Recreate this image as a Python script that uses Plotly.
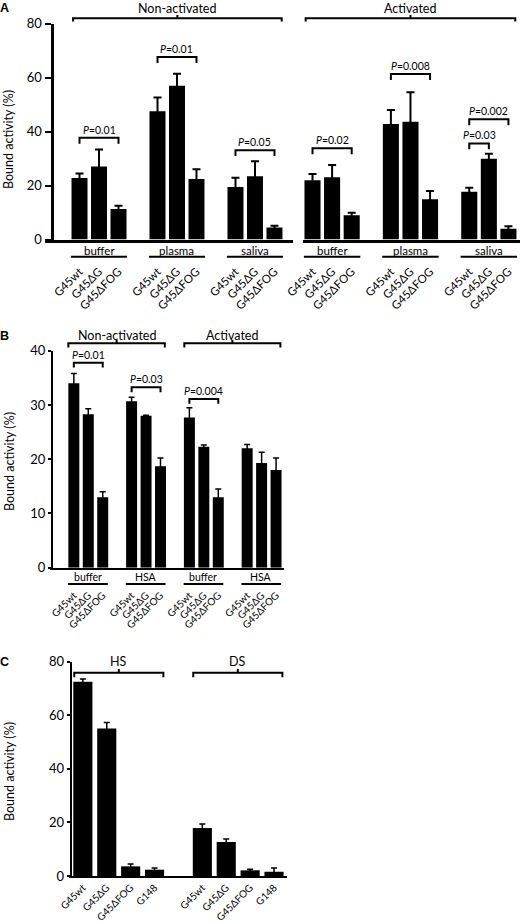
import plotly.graph_objects as go

FONT = "Lato"
W, H = 520, 922


def px_x(p):
    return p / W


def px_y(p):
    return 1 - p / H


# ---------------- data ----------------
# Panel A
A_conditions = ["buffer", "plasma", "saliva"]
A_variants = ["G45wt", "G45ΔG", "G45ΔFOG"]
A_nonact_mean = [22.8, 27.0, 11.3, 47.5, 56.9, 22.4, 19.4, 23.4, 4.4]
A_nonact_err = [1.6, 6.3, 1.2, 5.1, 4.5, 3.6, 3.5, 5.6, 0.7]
A_act_mean = [21.9, 23.1, 9.0, 42.8, 43.6, 14.9, 17.7, 29.9, 4.0]
A_act_err = [2.4, 4.5, 0.9, 5.2, 10.9, 3.1, 1.5, 1.9, 0.9]
A_group_titles = ["Non-activated", "Activated"]
# P-value comparisons: (first bar index, last bar index, bracket height, label)
A_nonact_pvals = [(0, 2, 37.7, "0.01"), (3, 5, 67.6, "0.01"), (6, 8, 33.1, "0.05")]
A_act_pvals = [(0, 2, 33.8, "0.02"), (3, 5, 61.3, "0.008"),
               (6, 8, 44.5, "0.002"), (6, 7, 35.6, "0.03")]

# Panel B
B_conditions = ["buffer", "HSA", "buffer", "HSA"]
B_variants = ["G45wt", "G45ΔG", "G45ΔFOG"]
B_mean = [34.0, 28.3, 13.0, 30.7, 28.0, 18.7, 27.7, 22.3, 13.0, 22.0, 19.3, 18.0]
B_err = [1.8, 1.0, 1.0, 0.7, 0.1, 1.5, 1.8, 0.3, 1.5, 0.7, 2.0, 2.2]
B_group_titles = ["Non-activated", "Activated"]
B_pvals = [(0, 2, 37.8, "0.01"), (3, 5, 33.25, "0.03"), (6, 8, 31.1, "0.004")]

# Panel C
C_variants = ["G45wt", "G45ΔG", "G45ΔFOG", "G148"]
C_HS_mean = [72.5, 55.1, 3.6, 2.35]
C_HS_err = [1.0, 2.2, 0.9, 0.65]
C_DS_mean = [17.9, 12.7, 2.1, 1.6]
C_DS_err = [1.5, 1.1, 0.4, 1.4]
C_group_titles = ["HS", "DS"]

# ---------------- positions (slots) ----------------
A_slots = [4 * g + b for g in range(3) for b in range(3)]
B_slots = [4 * g + b for g in range(4) for b in range(3)]
C_HS_slots = [0, 1, 2, 3]
C_DS_slots = [5, 6, 7, 8]

fig = go.Figure()


def err(arr, th=2, w=4):
    return dict(type="data", array=arr, color="black", thickness=th, width=w)


fig.add_trace(go.Bar(x=A_slots, y=A_nonact_mean, error_y=err(A_nonact_err),
                     marker=dict(color="black", line=dict(width=0)), width=0.82,
                     xaxis="x", yaxis="y"))
fig.add_trace(go.Bar(x=A_slots, y=A_act_mean, error_y=err(A_act_err),
                     marker=dict(color="black", line=dict(width=0)), width=0.82,
                     xaxis="x2", yaxis="y"))
fig.add_trace(go.Bar(x=B_slots, y=B_mean, error_y=err(B_err, 1.5, 3),
                     marker=dict(color="black", line=dict(width=0)), width=0.76,
                     xaxis="x3", yaxis="y2"))
fig.add_trace(go.Bar(x=C_HS_slots, y=C_HS_mean, error_y=err(C_HS_err, 1.5, 3),
                     marker=dict(color="black", line=dict(width=0)), width=0.8,
                     xaxis="x4", yaxis="y3"))
fig.add_trace(go.Bar(x=C_DS_slots, y=C_DS_mean, error_y=err(C_DS_err, 1.5, 3),
                     marker=dict(color="black", line=dict(width=0)), width=0.8,
                     xaxis="x4", yaxis="y3"))

shapes = []
annotations = []


def pbracket(xref, yref, x0, x1, y, leg, label, fs=10.5):
    shapes.append(dict(type="path", xref=xref, yref=yref,
                       path=f"M {x0},{y - leg} L {x0},{y} L {x1},{y} L {x1},{y - leg}",
                       line=dict(color="black", width=2)))
    annotations.append(dict(xref=xref, yref=yref, x=(x0 + x1) / 2, y=y,
                            yanchor="bottom", xanchor="center", showarrow=False,
                            text="<i>P</i>=" + label,
                            font=dict(family=FONT, size=fs, color="black"), yshift=0))


def group_bracket(xref, x0, x1, y_line, y_leg, y_tick, text, y_text, fs=12.5):
    xc = (x0 + x1) / 2
    shapes.append(dict(type="path", xref=xref, yref="paper",
                       path=(f"M {x0},{px_y(y_leg)} L {x0},{px_y(y_line)} L {x1},{px_y(y_line)} "
                             f"L {x1},{px_y(y_leg)} M {xc},{px_y(y_line)} L {xc},{px_y(y_tick)}"),
                       line=dict(color="black", width=2)))
    annotations.append(dict(xref=xref, yref="paper", x=xc, y=px_y(y_text),
                            yanchor="middle", xanchor="center", showarrow=False, text=text,
                            font=dict(family=FONT, size=fs, color="black")))


def cat_label(xref, g_start, g_end, text, y_text, y_line, fs=11.5):
    annotations.append(dict(xref=xref, yref="paper", x=(g_start + g_end) / 2, y=px_y(y_text),
                            yanchor="middle", xanchor="center", showarrow=False, text=text,
                            font=dict(family=FONT, size=fs, color="black")))
    shapes.append(dict(type="line", xref=xref, yref="paper", x0=g_start, x1=g_end,
                       y0=px_y(y_line), y1=px_y(y_line), line=dict(color="black", width=2)))


# Panel A annotations
for (i0, i1, y, lab) in A_nonact_pvals:
    pbracket("x", "y", A_slots[i0], A_slots[i1], y, 2.2, lab)
for (i0, i1, y, lab) in A_act_pvals:
    pbracket("x2", "y", A_slots[i0], A_slots[i1], y, 2.2, lab)
group_bracket("x", -0.33, 10.37, 18.3, 21.5, 15, A_group_titles[0], 8.3)
group_bracket("x2", -0.35, 10.35, 18.3, 21.5, 15, A_group_titles[1], 8.3)
for g, c in enumerate(A_conditions):
    cat_label("x", 4 * g - 0.44, 4 * g + 2.44, c, 250.5, 256.7)
    cat_label("x2", 4 * g - 0.44, 4 * g + 2.44, c, 250.5, 256.7)

# Panel B annotations
for (i0, i1, y, lab) in B_pvals:
    pbracket("x3", "y2", B_slots[i0], B_slots[i1], y, 0.9, lab)
group_bracket("x3", -0.38, 6.3, 343.3, 347.5, 340, B_group_titles[0], 335.7)
group_bracket("x3", 7.65, 14.3, 343.3, 347.5, 340, B_group_titles[1], 335.7)
for g, c in enumerate(B_conditions):
    cat_label("x3", 4 * g - 0.4, 4 * g + 2.35, c, 576.7, 584, fs=10.5)

# Panel C annotations
group_bracket("x4", -0.36, 3.37, 672.7, 677.3, 669, C_group_titles[0], 661.7)
group_bracket("x4", 4.62, 8.35, 672.7, 677.3, 669, C_group_titles[1], 661.7)

# Panel letters and y titles
for letter, ypx in [("A", 8), ("B", 336), ("C", 662)]:
    annotations.append(dict(xref="paper", yref="paper", x=px_x(4.5), y=px_y(ypx),
                            xanchor="center", yanchor="middle", showarrow=False,
                            text=f"<b>{letter}</b>",
                            font=dict(family="Liberation Sans", size=12.5, color="black")))
for ypx in [140, 462, 772]:
    annotations.append(dict(xref="paper", yref="paper", x=px_x(9), y=px_y(ypx),
                            xanchor="center", yanchor="middle", showarrow=False,
                            textangle=-90, text="Bound activity (%)",
                            font=dict(family=FONT, size=12.5, color="black")))

xcommon = dict(showgrid=False, zeroline=False, showline=True, linecolor="black",
               ticks="", tickangle=-45, automargin=False)
ycommon = dict(showgrid=False, zeroline=False, showline=True, linecolor="black",
               ticks="outside", tickcolor="black", anchor="free", automargin=False)

fig.update_layout(
    template="none",
    width=W, height=H, margin=dict(l=0, r=0, t=0, b=0, pad=0), autosize=False,
    paper_bgcolor="white", plot_bgcolor="white", showlegend=False,
    barmode="overlay",
    font=dict(family=FONT, color="black"),
    xaxis=dict(**xcommon, domain=[px_x(45), px_x(293)], range=[-1.77, 10.95], anchor="y",
               linewidth=3, tickvals=A_slots, ticktext=A_variants * 3,
               tickfont=dict(family=FONT, size=11.5), ticklabelstandoff=18),
    xaxis2=dict(**xcommon, domain=[px_x(303), 1.0], range=[-0.485, 10.59], anchor="y",
                linewidth=3, tickvals=A_slots, ticktext=A_variants * 3,
                tickfont=dict(family=FONT, size=11.5), ticklabelstandoff=18),
    yaxis=dict(**ycommon, domain=[px_y(239.5), px_y(23.5)], range=[0, 80],
               position=px_x(51.5), linewidth=3, ticklen=6, tickwidth=2,
               tickvals=[0, 20, 40, 60, 80], tickfont=dict(family=FONT, size=13)),
    xaxis3=dict(**xcommon, domain=[px_x(50), px_x(284)], range=[-1.65, 14.55], anchor="y2",
                linewidth=2, tickvals=B_slots, ticktext=B_variants * 4,
                tickfont=dict(family=FONT, size=10), ticklabelstandoff=16),
    yaxis2=dict(**ycommon, domain=[px_y(567.7), px_y(350.7)], range=[0, 40],
                position=px_x(52), linewidth=2, ticklen=3, tickwidth=1.5,
                tickvals=[0, 10, 20, 30, 40], tickfont=dict(family=FONT, size=13)),
    xaxis4=dict(**xcommon, domain=[px_x(69), px_x(286.7)], range=[-0.58, 8.53], anchor="y3",
                linewidth=2, tickvals=C_HS_slots + C_DS_slots, ticktext=C_variants * 2,
                tickfont=dict(family=FONT, size=10), ticklabelstandoff=0),
    yaxis3=dict(**ycommon, domain=[px_y(876), px_y(661.7)], range=[0, 80],
                position=px_x(70.7), linewidth=2, ticklen=3, tickwidth=1.5,
                tickvals=[0, 20, 40, 60, 80], tickfont=dict(family=FONT, size=13)),
    shapes=shapes,
    annotations=annotations,
)

fig.write_html("out.html", config={"displayModeBar": False},
               post_script="document.body.style.margin='0';document.body.style.overflow='hidden';")
